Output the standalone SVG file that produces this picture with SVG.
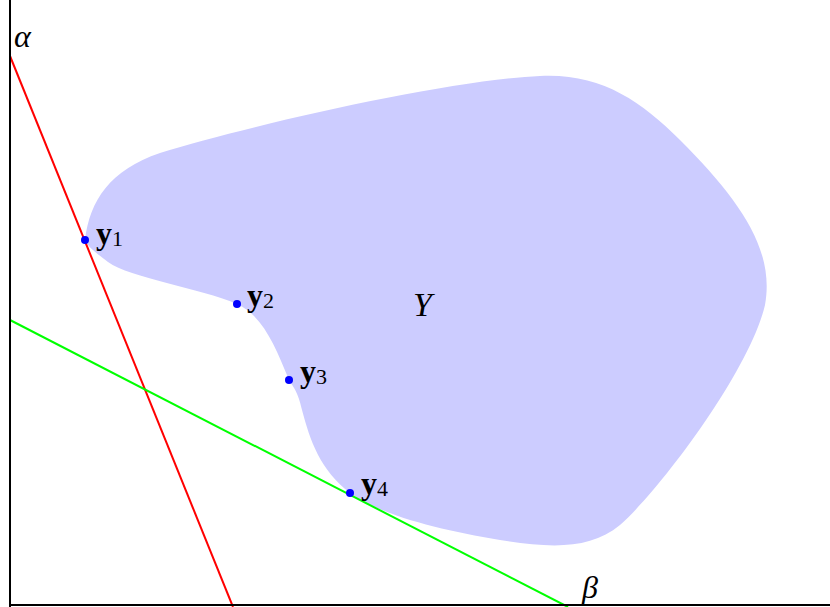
<svg xmlns="http://www.w3.org/2000/svg" width="830" height="607" viewBox="0 0 830 607">
<style>
.lbl{font-family:"Liberation Serif",serif;fill:#000}
.b{font-weight:bold;font-size:32px}
.sub{font-size:22px}
.pt{fill:#0000ff}
</style>
<rect width="830" height="607" fill="#fff"/>
<g id="region">
<path d="M85,240 C90,200 110,170 160,153 C250,125 450,80 540,76 C600,73 640,100 680,140 C740,200 775,250 765,305 C750,370 660,490 620,525 C590,550 550,548 500,540 C440,530 380,515 350,493 C320,470 310,440 302,410 C298,392 294,388 289,380 C275,345 262,315 237,304 C200,288 130,278 108,262 C95,252 88,247 85,240 Z" fill="#ccccff"/>
<text class="lbl" x="413" y="316" font-style="italic" style="font-size:34px">Y</text>
</g>
<g id="connectors">
<line x1="10" y1="56" x2="233" y2="607" stroke="#ff0000" stroke-width="2"/>
<line x1="10" y1="320" x2="568" y2="607" stroke="#00ff00" stroke-width="2"/>
</g>
<g id="axes">
<line x1="10" y1="0" x2="10" y2="607" stroke="#000" stroke-width="2"/>
<line x1="9" y1="605" x2="830" y2="605" stroke="#000" stroke-width="2"/>
<text class="lbl" x="14" y="47" font-style="italic" style="font-size:32px">α</text>
<text class="lbl" x="582" y="598" font-style="italic" style="font-size:32px">β</text>
</g>
<g id="y1"><circle class="pt" cx="85" cy="240" r="4"/><text class="lbl" x="96" y="244"><tspan class="b">y</tspan><tspan class="sub" dy="2">1</tspan></text></g>
<g id="y2"><circle class="pt" cx="237" cy="304" r="4"/><text class="lbl" x="247" y="306"><tspan class="b">y</tspan><tspan class="sub" dy="2">2</tspan></text></g>
<g id="y3"><circle class="pt" cx="289" cy="380" r="4"/><text class="lbl" x="300" y="382"><tspan class="b">y</tspan><tspan class="sub" dy="2">3</tspan></text></g>
<g id="y4"><circle class="pt" cx="350" cy="493" r="4"/><text class="lbl" x="361" y="494"><tspan class="b">y</tspan><tspan class="sub" dy="2">4</tspan></text></g>
</svg>
